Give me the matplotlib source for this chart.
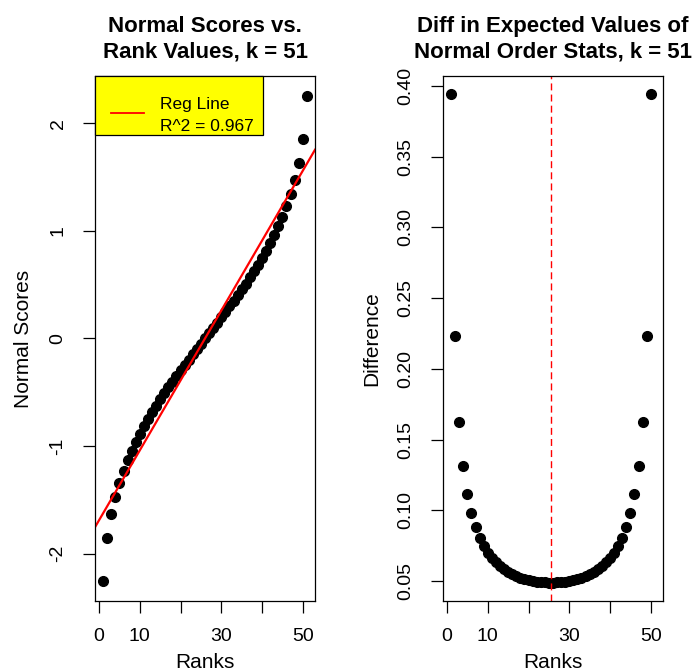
import matplotlib
matplotlib.use("Agg")
import matplotlib.pyplot as plt
import numpy as np
from matplotlib.patches import Rectangle

plt.rcParams['font.family'] = ['Liberation Sans', 'DejaVu Sans']
plt.rcParams['axes.unicode_minus'] = False

# expected normal order statistics, k = 51
upper = [0.0489, 0.0980, 0.1473, 0.1969, 0.2470, 0.2978, 0.3494, 0.4018,
         0.4555, 0.5104, 0.5670, 0.6254, 0.6861, 0.7493, 0.8158, 0.8860,
         0.9610, 1.0417, 1.1299, 1.2278, 1.3392, 1.4704, 1.6332, 1.8563,
         2.2508]
scores = [-v for v in upper[::-1]] + [0.0] + upper
ranks = list(range(1, 52))
r2_text = "R^2 = 0.967"
vline_x = 25.5

scores = np.array(scores)
ranks = np.array(ranks)
diffs = np.diff(scores)
diff_ranks = np.arange(1, len(diffs) + 1)

fig = plt.figure(figsize=(6.94, 6.72), dpi=100)
ax1 = fig.add_axes([0.1369, 0.1057, 0.3170, 0.7813])
ax2 = fig.add_axes([0.6383, 0.1057, 0.3170, 0.7813])

TICK = 14
LAB = 15
for ax in (ax1, ax2):
    for s in ax.spines.values():
        s.set_linewidth(0.9)
    ax.tick_params(length=8.5, width=0.9, labelsize=TICK)
    ax.tick_params(axis="x", pad=11)
    ax.tick_params(axis="y", pad=12)
    ax.set_xlim(-1, 53)
    ax.set_xticks([0, 10, 20, 30, 40, 50])
    ax.set_xticklabels(["0", "10", "", "30", "", "50"])
    ax.set_xlabel("Ranks", fontsize=LAB, labelpad=6)

# ---- left: normal scores vs ranks ----
ax1.plot(ranks, scores, "o", color="black", ms=7)
slope, icpt = np.polyfit(ranks, scores, 1)
xx = np.array([-1, 53])
ax1.plot(xx, icpt + slope * xx, color="red", lw=1.6)
ax1.set_ylim(-2.44, 2.44)
ax1.set_yticks([-2, -1, 0, 1, 2])
for lab in ax1.get_yticklabels():
    lab.set_rotation(90)
    lab.set_va("center")
ax1.set_ylabel("Normal Scores", fontsize=LAB, labelpad=12)
ax1.set_title("Normal Scores vs.\nRank Values, k = 51", fontsize=16,
              fontweight="bold", pad=13, linespacing=1.3)

# legend box (drawn by hand, text spills over the box like the original)
ax1.add_patch(Rectangle((0, 0.8876), 0.7636, 0.1124, transform=ax1.transAxes,
                        facecolor="yellow", edgecolor="black", lw=0.9,
                        zorder=3, clip_on=False))
ax1.plot([0.0727, 0.2227], [0.9295, 0.9295], color="red", lw=1.3,
         transform=ax1.transAxes, zorder=4)
ax1.text(0.2955, 0.9448, "Reg Line", transform=ax1.transAxes, fontsize=12.5,
         va="center", ha="left", zorder=4)
ax1.text(0.2955, 0.9029, r2_text, transform=ax1.transAxes, fontsize=12.5,
         va="center", ha="left", zorder=4)

# ---- right: consecutive differences ----
ax2.plot(diff_ranks, diffs, "o", color="black", ms=7)
ax2.axvline(vline_x, color="red", lw=1.0, ls=(0, (5, 3)))
ax2.set_ylim(0.036, 0.407)
yt = np.arange(0.05, 0.401, 0.05)
ax2.set_yticks(yt)
ax2.set_yticklabels([f"{v:.2f}" for v in yt])
for lab in ax2.get_yticklabels():
    lab.set_rotation(90)
    lab.set_va("center")
ax2.set_ylabel("Difference", fontsize=LAB, labelpad=12)
ax2.set_title("Diff in Expected Values of\nNormal Order Stats, k = 51",
              fontsize=16, fontweight="bold", pad=13, linespacing=1.3)

fig.savefig("out.png", dpi=100)
